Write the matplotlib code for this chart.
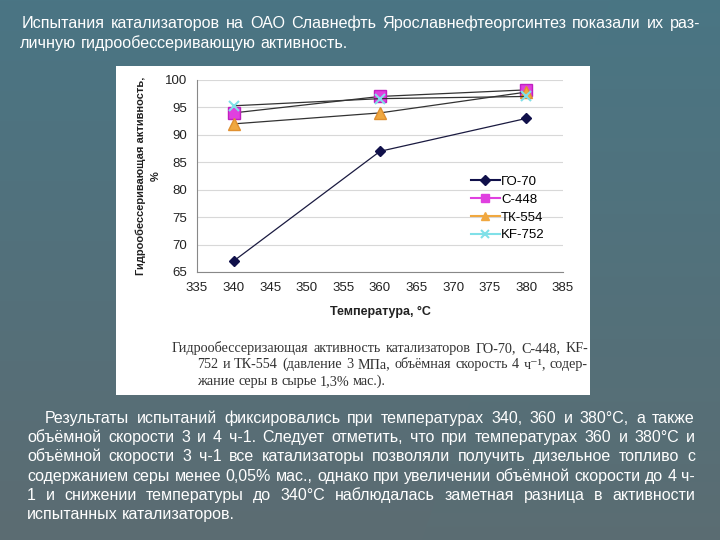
import numpy as np
import matplotlib
matplotlib.use("Agg")
import matplotlib.pyplot as plt
from matplotlib.lines import Line2D
from matplotlib.patches import Rectangle

# chart data
temps = [340, 360, 380]
go70 = [67, 87, 93]
c448 = [94, 97, 98.2]
tk554 = [92, 94, 97.8]
kf752 = [95.3, 96.6, 97]
series_names = ['ГО-70', 'С-448', 'ТК-554', 'KF-752']
x_ticks = list(range(335, 386, 5))
y_ticks = list(range(65, 101, 5))

top_lines = ['Испытания катализаторов на ОАО Славнефть Ярославнефтеоргсинтез показали их раз-',
             'личную гидрообессеривающую активность.']
caption_lines = ['Гидрообессеризающая активность катализаторов ГО-70, С-448, KF-',
                 '752 и ТК-554 (давление 3 МПа, объёмная скорость 4 ч⁻¹, содер-',
                 'жание серы в сырье 1,3% мас.).']
body_lines = ['Результаты испытаний фиксировались при температурах 340, 360 и 380°С, а также',
              'объёмной скорости 3 и 4 ч-1. Следует отметить, что при температурах 360 и 380°С и',
              'объёмной скорости 3 ч-1 все катализаторы позволяли получить дизельное топливо с',
              'содержанием серы менее 0,05% мас., однако при увеличении объёмной скорости до 4 ч-',
              '1 и снижении температуры до 340°С наблюдалась заметная разница в активности',
              'испытанных катализаторов.']

W, H = 720, 540
fig = plt.figure(figsize=(7.2, 5.4), dpi=100)


def fx(px):
    return px / W


def fy(py):
    return 1 - py / H


# slide background
bg = fig.add_axes([0, 0, 1, 1], zorder=-10)
bg.set_axis_off()
yy, xx = np.mgrid[0:H, 0:W]
t = (yy / H)[..., None]
top_c = np.array([74, 117, 132]) / 255
bot_c = np.array([92, 108, 114]) / 255
img = top_c * (1 - t) + bot_c * t
img = np.broadcast_to(img, (H, W, 3)).copy()
right = (xx > 610 - yy * 0.35)[..., None]
img = np.where(right, img * 0.96 + np.array([0.01, 0.02, 0.02]), img)
bg.imshow(img, extent=[0, W, H, 0], aspect='auto')
bg.set_xlim(0, W)
bg.set_ylim(H, 0)

# white picture area
fig.patches.append(Rectangle((fx(116), fy(395)), fx(590) - fx(116), fy(66) - fy(395),
                             transform=fig.transFigure, facecolor='white', edgecolor='none', zorder=-5))

ax = fig.add_axes([fx(197), fy(272), fx(563) - fx(197), fy(80) - fy(272)])
ax.plot(temps, go70, color='#1a1a40', lw=0.9, marker='D', ms=5.5, mfc='#10104a', mec='#10104a')
ax.plot(temps, c448, color='#333333', lw=0.9, marker='s', ms=8, mfc='#e040e0', mec='#c020c0')
ax.plot(temps, tk554, color='#333333', lw=0.9, marker='^', ms=8, mfc='#f0a840', mec='#e09030')
ax.plot(temps, kf752, color='#333333', lw=0.9, marker='x', ms=7, mew=1.5, mec='#80e0e8')

ax.set_xlim(335, 385)
ax.set_ylim(65, 100)
ax.set_xticks(x_ticks)
ax.set_yticks(y_ticks)
tick_font = dict(family='Liberation Sans', size=9.5)
ax.set_xticklabels([str(v) for v in x_ticks], **tick_font, color='#222222')
ax.set_yticklabels([str(v) for v in y_ticks], **tick_font, color='#222222')
ax.tick_params(length=0, pad=7)
ax.yaxis.grid(True, color='#d8d8d8', lw=0.8)
ax.set_axisbelow(True)
for s in ['top', 'right']:
    ax.spines[s].set_visible(False)
ax.spines['left'].set_color('#888888')
ax.spines['bottom'].set_color('#888888')
ax.set_xlabel('Температура, °С', family='Liberation Sans', size=9, weight='bold', color='#222222', labelpad=9)
ax.set_ylabel('Гидрообессеривающая активность,\n%', family='Liberation Sans', size=8, weight='bold',
              color='#222222', labelpad=3, linespacing=1.6)

handles = [Line2D([], [], color='#10104a', marker='D', ms=5),
           Line2D([], [], color='#e040e0', marker='s', ms=6),
           Line2D([], [], color='#f0a840', marker='^', ms=6),
           Line2D([], [], color='#80e0e8', marker='x', ms=6, mew=1.5)]
leg = ax.legend(handles, series_names, loc='upper left', bbox_to_anchor=(0.73, 0.535), frameon=False,
                prop=dict(family='Liberation Sans', size=9.5), handlelength=2.2, handletextpad=0.1,
                labelspacing=0.42, borderpad=0)

renderer = fig.canvas.get_renderer()


def justify(line, x0, x1, y, justify_line=True, **kw):
    # y is the visual middle of the line in pixels; words sit on a common baseline
    size = kw.get('size', 10) * 100 / 72
    base = y + 0.36 * size
    words = line.split(' ')
    texts = [fig.text(0, fy(base), w_, va='baseline', ha='left', **kw) for w_ in words]
    widths = [tx.get_window_extent(renderer).width for tx in texts]
    a = fig.text(0, 0, 'a a', **kw)
    b = fig.text(0, 0, 'aa', **kw)
    sp = a.get_window_extent(renderer).width - b.get_window_extent(renderer).width
    a.remove()
    b.remove()
    if justify_line and len(words) > 1:
        gap = (x1 - x0 - sum(widths)) / (len(words) - 1)
    else:
        gap = sp
    x = x0
    for tx, w_ in zip(texts, widths):
        tx.set_x(fx(x))
        x += w_ + gap


sans = dict(family=['Liberation Sans', 'DejaVu Sans'], size=11.6, color='white')
justify(top_lines[0], 22, 700, 22, **sans)
justify(top_lines[1], 20, 700, 42, justify_line=False, **sans)

serif = dict(family=['Liberation Serif', 'DejaVu Serif'], size=10.2, color='#333333')
justify(caption_lines[0], 172, 588, 347, **serif)
justify(caption_lines[1], 197, 588, 363, **serif)
justify(caption_lines[2], 197, 588, 380, justify_line=False, **serif)

body = dict(family=['Liberation Sans', 'DejaVu Sans'], size=11.5, color='white')
body_y = [417, 436, 455, 475, 494, 513]
for i, (ln, yv) in enumerate(zip(body_lines, body_y)):
    justify(ln, 45 if i == 0 else 27, 695, yv, justify_line=(i < len(body_lines) - 1), **body)

fig.savefig('out.png', dpi=100)
